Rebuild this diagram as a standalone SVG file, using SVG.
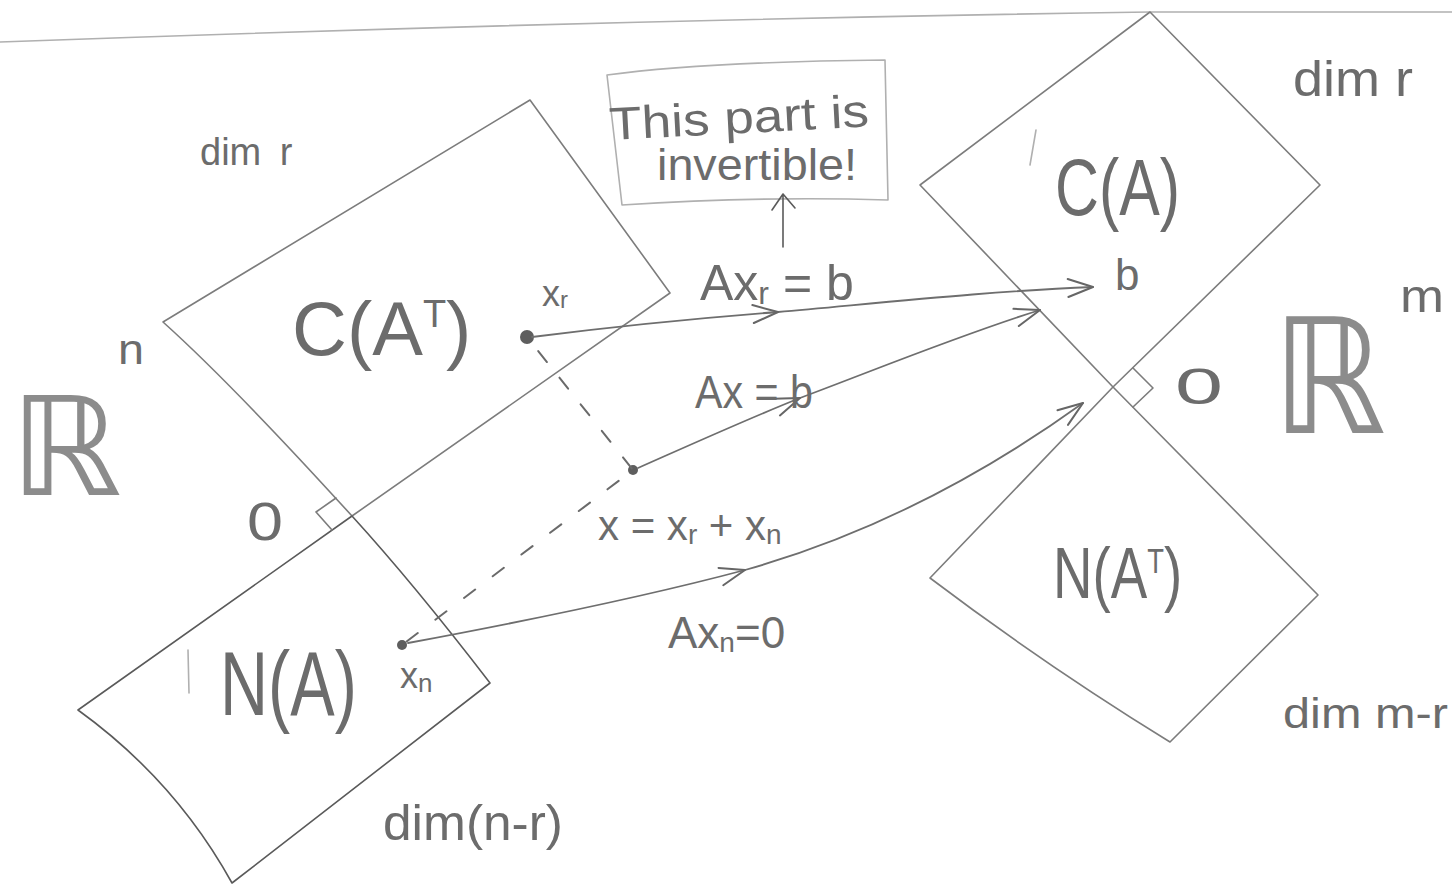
<svg xmlns="http://www.w3.org/2000/svg" width="1452" height="888" viewBox="0 0 1452 888">
<style>
.pen{fill:none;stroke:#7c7c7c;stroke-width:1.6;stroke-linecap:round;stroke-linejoin:round}
.dark{stroke:#5a5a5a}
.light{stroke:#b0b0b0}
.dash{fill:none;stroke:#6a6a6a;stroke-width:2;stroke-linecap:round}
.t{font-family:"Liberation Sans","DejaVu Sans",sans-serif;fill:#6c6c6c}
.bb{font-family:"DejaVu Sans","Liberation Sans",sans-serif;fill:#8c8c8c}
.dot{fill:#5e5e5e}
.arr{fill:none;stroke:#6e6e6e;stroke-width:1.8;stroke-linecap:round;marker-end:url(#ah)}
.arrm{marker-mid:url(#ah)}
</style>
<defs>
<marker id="ah" viewBox="0 0 30 24" refX="28" refY="12" markerWidth="30" markerHeight="24" markerUnits="userSpaceOnUse" orient="auto">
<path d="M3,3 L28,12 L3,21" fill="none" stroke="#666" stroke-width="2" stroke-linecap="round" stroke-linejoin="round"/>
</marker>
</defs>
<rect width="1452" height="888" fill="#ffffff"/>

<g id="page-edge">
<path class="pen light" d="M0,42 Q600,20 1150,12 L1452,12"/>
</g>

<g id="row-space">
<path class="pen" d="M352,516 Q232,384 163,322 L530,100 L670,293 L352,516"/>
<text class="t" x="292" y="355" font-size="76">C(A<tspan dy="-28" font-size="38">T</tspan><tspan dy="28">)</tspan></text>
<text class="t" x="200" y="165" font-size="38" word-spacing="8">dim r</text>
</g>

<g id="nullspace">
<path class="pen dark" d="M352,516 L78,710 Q175,780 232,883 L490,683 Q414,584 352,516"/>
<path class="pen light" d="M188,650 L189,693"/>
<text class="t" x="0" y="0" font-size="90" transform="translate(220,715) scale(0.74,1)">N(A)</text>
<text class="t" x="383" y="840" font-size="50" textLength="180" lengthAdjust="spacingAndGlyphs">dim(n-r)</text>
</g>

<g id="origin-left">
<path class="pen" d="M336,498 L316,512 L332,530"/>
<text class="t" x="247" y="540" font-size="54" textLength="36" lengthAdjust="spacingAndGlyphs">0</text>
</g>

<g id="Rn">
<text class="bb" x="10" y="495" font-size="137" textLength="112" lengthAdjust="spacingAndGlyphs">ℝ</text>
<text class="t" x="118" y="364" font-size="42" textLength="26" lengthAdjust="spacingAndGlyphs">n</text>
</g>

<g id="column-space">
<path class="pen" d="M1113,387 L920,185 L1150,12 L1320,185 L1113,387"/>
<path class="pen light" d="M1036,130 L1030,165"/>
<text class="t" x="1055" y="215" font-size="80" textLength="125" lengthAdjust="spacingAndGlyphs">C(A)</text>
<text class="t" x="1293" y="96" font-size="50" textLength="120" lengthAdjust="spacingAndGlyphs">dim r</text>
<text class="t" x="1115" y="290" font-size="44">b</text>
</g>

<g id="left-nullspace">
<path class="pen" d="M1113,387 L1318,595 L1170,742 Q1045,665 930,578 L1113,387"/>
<text class="t" x="0" y="0" font-size="72" transform="translate(1053,598) scale(0.76,1)">N(A<tspan dy="-25" font-size="36">T</tspan><tspan dy="25">)</tspan></text>
<text class="t" x="1283" y="728" font-size="42" textLength="165" lengthAdjust="spacingAndGlyphs">dim m-r</text>
</g>

<g id="origin-right">
<path class="pen" d="M1133,368 L1153,388 L1133,407"/>
<text class="t" x="1175" y="404" font-size="50" textLength="48" lengthAdjust="spacingAndGlyphs">0</text>
</g>

<g id="Rm">
<text class="bb" x="1272" y="433" font-size="160" textLength="114" lengthAdjust="spacingAndGlyphs">ℝ</text>
<text class="t" x="1400" y="312" font-size="46" textLength="44" lengthAdjust="spacingAndGlyphs">m</text>
</g>

<g id="note">
<path class="pen light" d="M607,75 Q700,62 885,60 L888,200 Q760,196 622,205 Z"/>
<text class="t" x="610" y="140" font-size="46" textLength="260" lengthAdjust="spacingAndGlyphs" transform="rotate(-3 610 140)">This part is</text>
<text class="t" x="657" y="180" font-size="44" textLength="200" lengthAdjust="spacingAndGlyphs">invertible!</text>
<path class="pen dark" d="M783,247 L783,195 M772,210 L783,194 L795,208"/>
</g>

<g id="points">
<circle class="dot" cx="527" cy="337" r="7"/>
<text class="t" x="542" y="306" font-size="36">x<tspan font-size="24" dy="2">r</tspan></text>
<circle class="dot" cx="633" cy="470" r="5"/>
<circle class="dot" cx="402" cy="645" r="5"/>
<text class="t" x="400" y="688" font-size="36">x<tspan font-size="26" dy="4">n</tspan></text>
</g>

<g id="connectors">
<path class="arr arrm" d="M532,337 C610,327 700,318 778,312 C880,303 990,291 1093,287"/>
<path class="arr arrm" d="M638,468 C690,445 745,420 800,398 C880,368 960,335 1040,310"/>
<path class="arr arrm" d="M408,643 C510,624 640,598 745,570 C880,532 990,470 1083,403"/>
<path class="dash" d="M527,337 L633,470" stroke-dasharray="14 20" stroke-dashoffset="-18"/>
<path class="dash" d="M633,470 L402,645" stroke-dasharray="14 22" stroke-dashoffset="-18"/>
<text class="t" x="700" y="300" font-size="50">Ax<tspan font-size="32" dy="4">r</tspan><tspan dy="-4"> = b</tspan></text>
<text class="t" x="695" y="408" font-size="46" textLength="118" lengthAdjust="spacingAndGlyphs">Ax = b</text>
<text class="t" x="598" y="540" font-size="42">x = x<tspan font-size="28" dy="4">r</tspan><tspan dy="-4"> + x</tspan><tspan font-size="28" dy="4">n</tspan></text>
<text class="t" x="668" y="648" font-size="44">Ax<tspan font-size="28" dy="4">n</tspan><tspan dy="-4">=0</tspan></text>
</g>
</svg>
